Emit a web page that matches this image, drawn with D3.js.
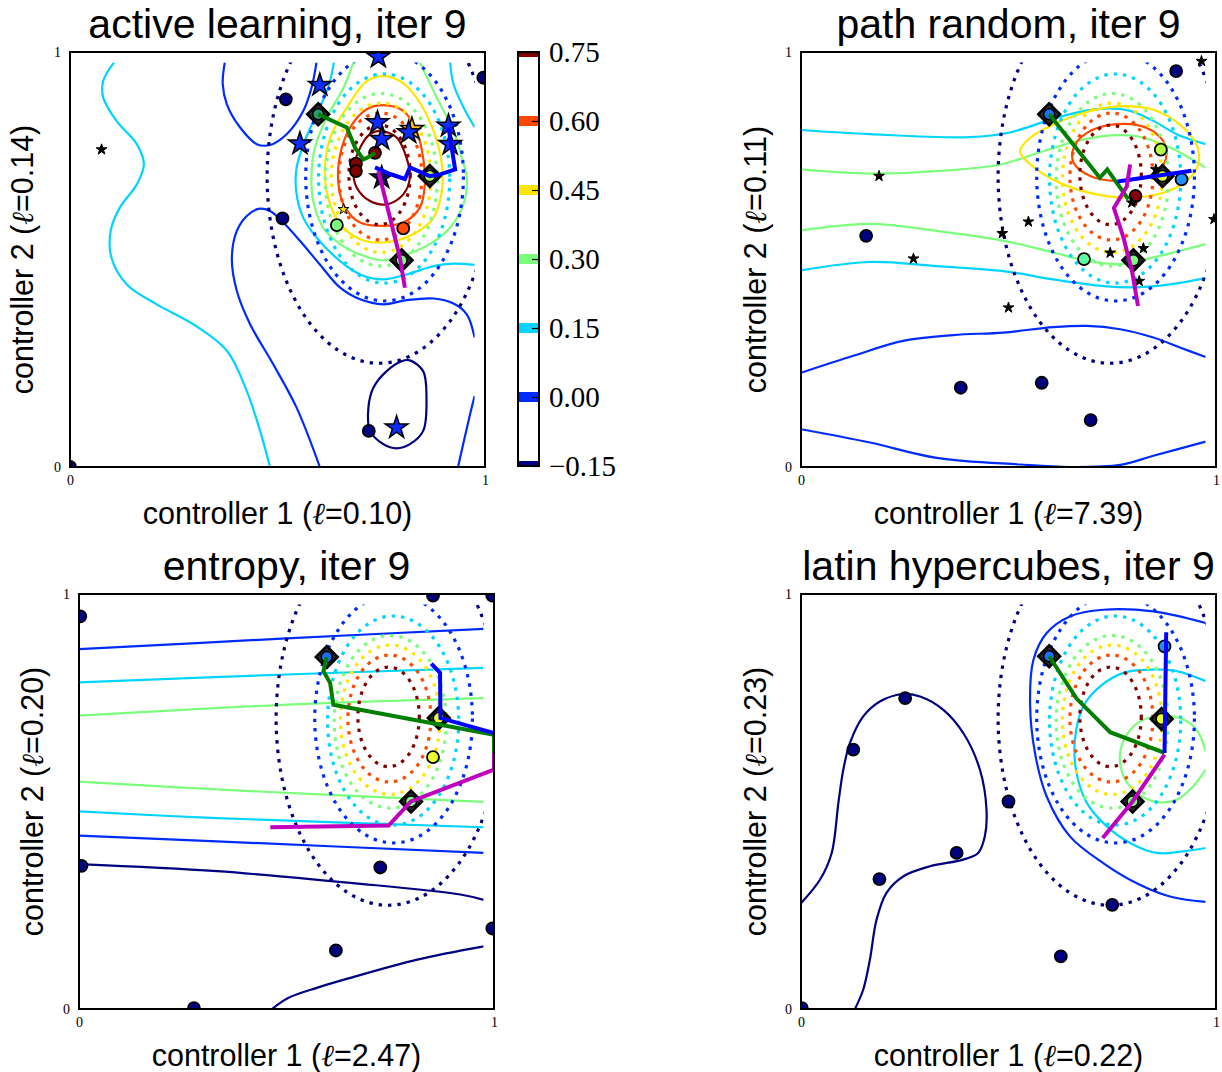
<!DOCTYPE html>
<html><head><meta charset="utf-8">
<script src="https://cdn.jsdelivr.net/npm/d3@7"></script>
<style>body{margin:0;background:#fff}</style>
</head><body>
<svg id="c" width="1222" height="1072" xmlns="http://www.w3.org/2000/svg"></svg>
<script>
// ---------- data ----------
const LEVELS = [-0.15, 0.00, 0.15, 0.30, 0.45, 0.60, 0.75];
const LEVEL_COLORS = ["#000080", "#002bff", "#00d4ff", "#7bff7b", "#ffe600", "#ff4900", "#800000"];

// true-function (dotted) contour rings, one per level
const TRUTH_CX = [0.745, 0.758, 0.757, 0.750, 0.750, 0.748, 0.746];
const TRUTH_CY = [0.700, 0.700, 0.695, 0.692, 0.697, 0.700, 0.704];
const TRUTH_RX = [0.270, 0.190, 0.158, 0.135, 0.120, 0.100, 0.074];
const TRUTH_RY = [0.450, 0.300, 0.252, 0.208, 0.180, 0.153, 0.120];

const TITLES = ["active learning, iter 9", "path random, iter 9", "entropy, iter 9", "latin hypercubes, iter 9"];
const X_ELL = ["0.10", "7.39", "2.47", "0.22"];
const Y_ELL = ["0.14", "0.11", "0.20", "0.23"];
const AXIS_TICKS = [0, 1];

// model-mean contours: [levelIndex, closed, points]
const P1_CONTOURS = [
 [2,0,[[0.106,0.975],[0.080,0.930],[0.080,0.890],[0.112,0.834],[0.161,0.778],[0.178,0.729],[0.161,0.681],[0.120,0.625],[0.098,0.569],[0.100,0.504],[0.137,0.440],[0.209,0.392],[0.297,0.344],[0.378,0.280],[0.426,0.183],[0.458,0.087],[0.482,0.0]]],
 [1,0,[[0.373,0.975],[0.368,0.923],[0.378,0.874],[0.410,0.818],[0.450,0.778],[0.482,0.776],[0.522,0.802],[0.562,0.858],[0.582,0.914],[0.594,0.975]]],
 [1,0,[[0.602,0.0],[0.546,0.143],[0.490,0.247],[0.434,0.344],[0.402,0.424],[0.390,0.504],[0.402,0.569],[0.426,0.605],[0.454,0.622],[0.482,0.617],[0.514,0.589],[0.554,0.545],[0.602,0.488],[0.651,0.432],[0.699,0.404],[0.755,0.392],[0.811,0.402],[0.876,0.406],[0.924,0.394],[0.956,0.368],[0.975,0.312]]],
 [1,0,[[0.975,0.171],[0.964,0.127],[0.935,0.0]]],
 [0,1,[[0.819,0.257],[0.851,0.231],[0.859,0.167],[0.851,0.087],[0.819,0.055],[0.787,0.045],[0.755,0.055],[0.723,0.087],[0.719,0.143],[0.731,0.191],[0.763,0.231],[0.799,0.255]]],
 [2,0,[[0.916,0.975],[0.924,0.923],[0.948,0.867],[0.975,0.819]]],
 [2,0,[[0.636,0.975],[0.622,0.914],[0.594,0.850],[0.566,0.786],[0.546,0.721],[0.545,0.665],[0.562,0.601],[0.594,0.553],[0.651,0.496],[0.699,0.464],[0.755,0.452],[0.811,0.464],[0.876,0.484],[0.924,0.490],[0.975,0.487]]],
 [3,0,[[0.683,0.975],[0.659,0.914],[0.618,0.841],[0.590,0.769],[0.582,0.705],[0.586,0.641],[0.610,0.577],[0.651,0.537],[0.699,0.512],[0.755,0.498],[0.811,0.512],[0.867,0.537],[0.916,0.577],[0.948,0.633],[0.956,0.697],[0.944,0.745],[0.924,0.810],[0.884,0.890],[0.843,0.975]]],
 [4,1,[[0.755,0.942],[0.795,0.930],[0.835,0.890],[0.876,0.810],[0.896,0.729],[0.896,0.665],[0.876,0.601],[0.827,0.561],[0.755,0.541],[0.699,0.549],[0.651,0.585],[0.622,0.649],[0.614,0.713],[0.627,0.794],[0.667,0.866],[0.715,0.930]]],
 [5,1,[[0.755,0.872],[0.803,0.858],[0.835,0.810],[0.851,0.745],[0.855,0.681],[0.843,0.625],[0.803,0.589],[0.755,0.581],[0.699,0.589],[0.663,0.625],[0.647,0.681],[0.651,0.753],[0.675,0.818],[0.715,0.862]]],
 [6,1,[[0.747,0.810],[0.787,0.794],[0.811,0.745],[0.819,0.697],[0.803,0.657],[0.763,0.633],[0.723,0.641],[0.691,0.673],[0.683,0.713],[0.699,0.769],[0.723,0.802]]]
];
const P2_CONTOURS = [
 [2,0,[[0.0,0.812],[0.166,0.802],[0.407,0.795],[0.503,0.806],[0.592,0.834],[0.664,0.854],[0.745,0.864],[0.793,0.858],[0.849,0.834],[0.905,0.802],[0.975,0.778]]],
 [3,0,[[0.0,0.717],[0.166,0.707],[0.327,0.713],[0.480,0.729],[0.584,0.761],[0.664,0.785],[0.745,0.799],[0.809,0.797],[0.873,0.777],[0.929,0.749],[0.975,0.721]]],
 [4,1,[[0.761,0.869],[0.849,0.861],[0.913,0.825],[0.953,0.777],[0.957,0.729],[0.929,0.689],[0.873,0.661],[0.793,0.649],[0.713,0.657],[0.632,0.681],[0.568,0.717],[0.528,0.761],[0.552,0.793],[0.608,0.825],[0.680,0.853]]],
 [5,1,[[0.761,0.826],[0.833,0.817],[0.873,0.785],[0.881,0.753],[0.865,0.717],[0.825,0.697],[0.761,0.689],[0.697,0.701],[0.657,0.733],[0.657,0.769],[0.689,0.805]]],
 [3,0,[[0.0,0.570],[0.166,0.586],[0.327,0.569],[0.488,0.545],[0.608,0.517],[0.689,0.497],[0.769,0.489],[0.849,0.505],[0.913,0.521],[0.975,0.537]]],
 [2,0,[[0.0,0.474],[0.166,0.494],[0.327,0.484],[0.488,0.472],[0.608,0.452],[0.729,0.436],[0.809,0.433],[0.889,0.440],[0.975,0.455]]],
 [1,0,[[0.0,0.227],[0.126,0.268],[0.246,0.304],[0.367,0.318],[0.488,0.324],[0.608,0.337],[0.689,0.340],[0.769,0.332],[0.849,0.312],[0.913,0.288],[0.975,0.265]]],
 [1,0,[[0.0,0.091],[0.166,0.059],[0.327,0.022],[0.528,0.006],[0.648,0.0],[0.769,0.005],[0.849,0.027],[0.975,0.061]]]
];
const P3_CONTOURS = [
 [1,0,[[0.0,0.867],[0.5,0.893],[0.975,0.916]]],
 [2,0,[[0.0,0.787],[0.5,0.806],[0.975,0.822]]],
 [3,0,[[0.0,0.707],[0.493,0.733],[0.975,0.749]]],
 [3,0,[[0.0,0.548],[0.332,0.529],[0.975,0.499]]],
 [2,0,[[0.0,0.476],[0.332,0.460],[0.975,0.438]]],
 [1,0,[[0.0,0.418],[0.332,0.404],[0.975,0.376]]],
 [0,0,[[0.0,0.349],[0.332,0.332],[0.654,0.304],[0.919,0.276],[0.975,0.263]]],
 [0,0,[[0.465,0.0],[0.505,0.027],[0.573,0.051],[0.654,0.075],[0.815,0.119],[0.975,0.151]]]
];
const P4_CONTOURS = [
 [0,0,[[0.0,0.255],[0.046,0.312],[0.074,0.376],[0.090,0.496],[0.102,0.577],[0.118,0.641],[0.150,0.705],[0.190,0.741],[0.247,0.759],[0.287,0.753],[0.343,0.721],[0.391,0.665],[0.431,0.577],[0.447,0.480],[0.443,0.416],[0.427,0.376],[0.391,0.360],[0.311,0.344],[0.247,0.320],[0.206,0.280],[0.182,0.215],[0.166,0.119],[0.150,0.047],[0.130,0.0]]],
 [1,0,[[0.975,0.930],[0.849,0.958],[0.729,0.962],[0.648,0.946],[0.592,0.906],[0.560,0.841],[0.552,0.737],[0.564,0.616],[0.592,0.512],[0.648,0.416],[0.729,0.351],[0.809,0.303],[0.889,0.271],[0.975,0.258]]],
 [2,0,[[0.975,0.790],[0.905,0.814],[0.841,0.818],[0.777,0.810],[0.720,0.777],[0.680,0.729],[0.660,0.649],[0.664,0.569],[0.689,0.496],[0.737,0.440],[0.793,0.400],[0.857,0.376],[0.921,0.380],[0.975,0.388]]],
 [3,0,[[0.975,0.621],[0.953,0.673],[0.913,0.701],[0.865,0.706],[0.817,0.693],[0.785,0.661],[0.769,0.617],[0.777,0.561],[0.809,0.521],[0.857,0.499],[0.905,0.504],[0.945,0.537],[0.975,0.577]]]
];

// sampled points: [x, y, fill]
const P1_CIRCLES = [[0.520,0.886,"#000080"],[0.512,0.599,"#000080"],[0.996,0.938,"#000080"],[0.720,0.087,"#000080"],[0.0,0.0,"#000080"],
  [0.735,0.757,"#800000"],[0.689,0.731,"#800000"],[0.689,0.713,"#800000"],[0.803,0.575,"#ff4900"],[0.643,0.583,"#7bff7b"]];
const P2_CIRCLES = [[0.904,0.954,"#000080"],[0.157,0.557,"#000080"],[0.385,0.191,"#000080"],[0.580,0.203,"#000080"],[0.698,0.113,"#000080"],
  [0.867,0.765,"#b4ff48"],[0.682,0.501,"#5effa0"],[0.917,0.693,"#1e90ff"],[0.806,0.653,"#8a0000"]];
const P3_CIRCLES = [[0.003,0.946,"#000080"],[0.853,0.996,"#000080"],[0.996,0.996,"#000080"],[0.006,0.345,"#000080"],[0.726,0.341,"#000080"],
  [0.996,0.194,"#000080"],[0.619,0.141,"#000080"],[0.277,0.002,"#000080"],[0.853,0.607,"#eeff30"]];
const P4_CIRCLES = [[0.251,0.749,"#000080"],[0.126,0.625,"#000080"],[0.500,0.500,"#000080"],[0.375,0.376,"#000080"],[0.189,0.313,"#000080"],
  [0.750,0.251,"#000080"],[0.626,0.127,"#000080"],[0.002,0.002,"#000080"],[0.876,0.874,"#1e90ff"]];

// controller start points (diamonds): [x, y, inner colour]
const P1_DIAMONDS = [[0.598,0.850,"#2a9a70"],[0.799,0.498,"#7bff7b"],[0.867,0.701,"#b8ff50"]];
const P2_DIAMONDS = [[0.598,0.850,"#1e6fff"],[0.801,0.498,"#7bff7b"],[0.871,0.701,"#e8ff30"]];
const P3_DIAMONDS = [[0.597,0.848,"#1e6fff"],[0.800,0.500,"#7bff7b"],[0.867,0.701,"#e8ff30"]];
const P4_DIAMONDS = [[0.598,0.850,"#1e6fff"],[0.799,0.500,"#7bff7b"],[0.869,0.699,"#e8ff30"]];

// stars: [x, y, fill, big(1)/small(0)]
const P1_STARS = [[0.602,0.920,"#0b2bff",1],[0.743,0.988,"#0b2bff",1],[0.741,0.830,"#0b2bff",1],[0.751,0.790,"#0b2bff",1],
  [0.554,0.779,"#0b2bff",1],[0.824,0.814,"#ffc400",1],[0.816,0.806,"#0b2bff",1],[0.912,0.822,"#0b2bff",1],[0.916,0.778,"#0b2bff",1],
  [0.751,0.697,"#10105a",1],[0.659,0.621,"#ffe600",0],[0.076,0.765,"#000000",0],[0.787,0.095,"#0b2bff",1]];
const P2_STARS = [[0.965,0.978,"#000",0],[0.188,0.701,"#000",0],[0.548,0.591,"#000",0],[0.485,0.563,"#000",0],[0.271,0.502,"#000",0],
  [0.500,0.384,"#000",0],[0.995,0.597,"#000",0],[0.745,0.516,"#000",0],[0.825,0.527,"#000",0],[0.815,0.448,"#000",0],
  [0.797,0.637,"#000",0],[0.855,0.717,"#000",0]];
const P3_STARS = [];
const P4_STARS = [];

// controller trajectories
const P1_GREEN = [[0.598,0.850],[0.667,0.818],[0.687,0.769],[0.707,0.741],[0.723,0.749],[0.735,0.757]];
const P1_BLUE = [[0.735,0.722],[0.771,0.706],[0.807,0.694],[0.819,0.722],[0.867,0.701],[0.892,0.705],[0.928,0.717],[0.912,0.818]];
const P1_MAGENTA = [[0.743,0.713],[0.771,0.601],[0.795,0.504],[0.807,0.432]];
const P2_GREEN = [[0.598,0.850],[0.720,0.697],[0.738,0.717],[0.789,0.645]];
const P2_BLUE = [[0.763,0.688],[0.941,0.714]];
const P2_MAGENTA = [[0.793,0.729],[0.785,0.676],[0.754,0.624],[0.777,0.553],[0.798,0.470],[0.812,0.388]];
const P3_GREEN = [[0.597,0.848],[0.589,0.814],[0.605,0.786],[0.613,0.733],[1.0,0.661],[1.0,0.617]];
const P3_BLUE = [[0.849,0.832],[0.870,0.810],[0.871,0.701],[1.0,0.665]];
const P3_MAGENTA = [[0.461,0.438],[0.746,0.442],[0.800,0.500],[1.0,0.577],[1.0,0.617]];
const P4_GREEN = [[0.598,0.850],[0.664,0.748],[0.745,0.667],[0.876,0.617]];
const P4_BLUE = [[0.880,0.908],[0.876,0.617]];
const P4_MAGENTA = [[0.876,0.613],[0.799,0.500],[0.727,0.412]];

// ---------- drawing ----------
const svg = d3.select("#c");
const defs = svg.append("defs");
const S = 415;
const GRID_MAX = 0.975;
const SANS = "'Liberation Sans', Arial, Helvetica, sans-serif";
const SERIF = "'Liberation Serif', 'DejaVu Serif', serif";

function drawPanel(k, left, top, ylabX, contours, circles, diamonds, stars, green, blue, magenta) {
  const x = d3.scaleLinear().domain([0, 1]).range([left, left + S]);
  const y = d3.scaleLinear().domain([0, 1]).range([top + S, top]);
  defs.append("clipPath").attr("id", "ax" + k).append("rect")
    .attr("x", left).attr("y", top).attr("width", S).attr("height", S);
  defs.append("clipPath").attr("id", "gr" + k).append("rect")
    .attr("x", x(0)).attr("y", y(GRID_MAX)).attr("width", x(GRID_MAX) - x(0)).attr("height", y(0) - y(GRID_MAX));

  const g = svg.append("g");
  const cg = g.append("g").attr("clip-path", `url(#gr${k})`);
  // model contours
  contours.forEach(([li, closed, pts]) => {
    const line = d3.line().x(d => x(d[0])).y(d => y(d[1]))
      .curve(closed ? d3.curveCatmullRomClosed.alpha(0.5) : d3.curveCatmullRom.alpha(0.5));
    cg.append("path").attr("d", line(pts)).attr("fill", "none")
      .attr("stroke", LEVEL_COLORS[li]).attr("stroke-width", 2.2);
  });
  // true-function dotted contours
  LEVELS.forEach((lv, i) => {
    cg.append("ellipse")
      .attr("cx", x(TRUTH_CX[i])).attr("cy", y(TRUTH_CY[i]))
      .attr("rx", x(TRUTH_RX[i]) - x(0)).attr("ry", y(0) - y(TRUTH_RY[i]))
      .attr("fill", "none").attr("stroke", LEVEL_COLORS[i])
      .attr("stroke-width", 3.2).attr("stroke-dasharray", "3.4,6");
  });

  const mg = g.append("g").attr("clip-path", `url(#ax${k})`);
  circles.forEach(([cx, cy, col]) => {
    mg.append("circle").attr("cx", x(cx)).attr("cy", y(cy)).attr("r", 6)
      .attr("fill", col).attr("stroke", "#000").attr("stroke-width", 1.8);
  });
  const starBig = d3.symbol(d3.symbolStar, 160);
  const starSmall = d3.symbol(d3.symbolStar, 36);
  stars.forEach(([sx, sy, col, big]) => {
    mg.append("path").attr("d", big ? starBig() : starSmall())
      .attr("transform", `translate(${x(sx)},${y(sy)})`)
      .attr("fill", col).attr("stroke", "#000").attr("stroke-width", big ? 1.5 : 1);
  });
  diamonds.forEach(([dx, dy, col]) => {
    mg.append("path").attr("d", d3.symbol(d3.symbolSquare, 240)())
      .attr("transform", `translate(${x(dx)},${y(dy)}) rotate(45)`)
      .attr("fill", "#2a2a2a").attr("stroke", "#000").attr("stroke-width", 2.5);
    mg.append("circle").attr("cx", x(dx)).attr("cy", y(dy)).attr("r", 5.5)
      .attr("fill", col).attr("stroke", "#000").attr("stroke-width", 1.5);
  });
  const pl = d3.line().x(d => x(d[0])).y(d => y(d[1]));
  [[green, "#007f00"], [blue, "#0000ff"], [magenta, "#bf00bf"]].forEach(([pts, col]) => {
    mg.append("path").attr("d", pl(pts)).attr("fill", "none").attr("stroke", col)
      .attr("stroke-width", 4).attr("stroke-linejoin", "miter");
  });

  // frame
  g.append("rect").attr("x", left).attr("y", top).attr("width", S).attr("height", S)
    .attr("fill", "none").attr("stroke", "#000").attr("stroke-width", 2);

  // axes (ticks only at 0 and 1)
  const xa = g.append("g").attr("transform", `translate(0,${top + S})`)
    .call(d3.axisBottom(x).tickValues(AXIS_TICKS).tickFormat(d3.format("d")).tickSizeInner(-5).tickSizeOuter(0).tickPadding(8));
  const ya = g.append("g").attr("transform", `translate(${left},0)`)
    .call(d3.axisLeft(y).tickValues(AXIS_TICKS).tickFormat(d3.format("d")).tickSizeInner(-5).tickSizeOuter(0).tickPadding(9));
  [xa, ya].forEach(a => {
    a.select(".domain").remove();
    a.selectAll("text").attr("font-family", SERIF).attr("font-size", 14).attr("fill", "#000");
    a.selectAll("line").attr("stroke", "#000");
  });

  // title & labels
  g.append("text").attr("x", left + S / 2).attr("y", top - 14).attr("text-anchor", "middle")
    .attr("font-family", SANS).attr("font-size", 41).text(TITLES[k]);
  const xl = g.append("text").attr("x", left + S / 2).attr("y", top + S + 57).attr("text-anchor", "middle")
    .attr("font-family", SANS).attr("font-size", 30.5);
  xl.append("tspan").text("controller 1 (");
  xl.append("tspan").attr("font-family", SERIF).attr("font-style", "italic").text("\u2113");
  xl.append("tspan").text("=" + X_ELL[k] + ")");
  const yl = g.append("text").attr("transform", `translate(${ylabX},${top + S / 2}) rotate(-90)`)
    .attr("text-anchor", "middle").attr("dy", "0.36em")
    .attr("font-family", SANS).attr("font-size", 30.5);
  yl.append("tspan").text("controller 2 (");
  yl.append("tspan").attr("font-family", SERIF).attr("font-style", "italic").text("\u2113");
  yl.append("tspan").text("=" + Y_ELL[k] + ")");
}

drawPanel(0, 70, 52, 22, P1_CONTOURS, P1_CIRCLES, P1_DIAMONDS, P1_STARS, P1_GREEN, P1_BLUE, P1_MAGENTA);
drawPanel(1, 801, 52, 755, P2_CONTOURS, P2_CIRCLES, P2_DIAMONDS, P2_STARS, P2_GREEN, P2_BLUE, P2_MAGENTA);
drawPanel(2, 79, 594, 32, P3_CONTOURS, P3_CIRCLES, P3_DIAMONDS, P3_STARS, P3_GREEN, P3_BLUE, P3_MAGENTA);
drawPanel(3, 801, 594, 755, P4_CONTOURS, P4_CIRCLES, P4_DIAMONDS, P4_STARS, P4_GREEN, P4_BLUE, P4_MAGENTA);

// ---------- colorbar ----------
const cbX = 518, cbW = 21, cbTop = 52, cbBot = 466;
const cb = d3.scaleLinear().domain([LEVELS[0], LEVELS[LEVELS.length - 1]]).range([cbBot, cbTop]);
defs.append("clipPath").attr("id", "cbclip").append("rect")
  .attr("x", cbX).attr("y", cbTop).attr("width", cbW).attr("height", cbBot - cbTop);
const cbg = svg.append("g");
cbg.append("rect").attr("x", cbX).attr("y", cbTop).attr("width", cbW).attr("height", cbBot - cbTop).attr("fill", "#fff");
const bands = cbg.append("g").attr("clip-path", "url(#cbclip)");
LEVELS.forEach((lv, i) => {
  bands.append("rect").attr("x", cbX).attr("y", cb(lv) - 5).attr("width", cbW).attr("height", 10)
    .attr("fill", LEVEL_COLORS[i]);
});
const cba = cbg.append("g").attr("transform", `translate(${cbX + cbW},0)`)
  .call(d3.axisRight(cb).tickValues(LEVELS).tickFormat(d3.format(".2f")).tickSizeInner(-7).tickSizeOuter(0).tickPadding(10));
cba.select(".domain").remove();
cba.selectAll("line").attr("stroke", "#000").attr("stroke-width", 1.2);
cba.selectAll("text").attr("font-family", SERIF).attr("font-size", 29).attr("fill", "#000");
cbg.append("rect").attr("x", cbX).attr("y", cbTop).attr("width", cbW).attr("height", cbBot - cbTop)
  .attr("fill", "none").attr("stroke", "#000").attr("stroke-width", 2);
</script>
</body></html>
